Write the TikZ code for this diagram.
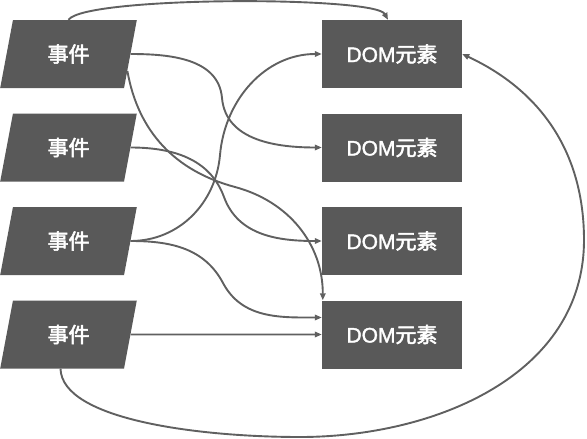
\documentclass[tikz,border=0pt]{standalone}
\usepackage{fontspec}
\setmainfont{Noto Sans CJK SC}
\newfontfamily\cjkmed{Noto Sans CJK SC}[FakeBold=2.5]
\newfontfamily\latinfont{Liberation Sans}[FakeBold=1.8]
\usetikzlibrary{shapes.geometric,arrows.meta,calc}
\definecolor{boxgray}{HTML}{595959}
\definecolor{linegray}{HTML}{606060}
\begin{document}
\begin{tikzpicture}[x=1pt,y=1pt,
  evt/.style={trapezium, trapezium left angle=76, trapezium right angle=104,
    trapezium stretches=true, minimum width=137pt, minimum height=68pt,
    fill=boxgray, text=white, inner sep=0pt, font=\fontsize{21pt}{21pt}\selectfont\cjkmed},
  dom/.style={rectangle, minimum width=140pt, minimum height=68pt,
    fill=boxgray, text=white, inner sep=0pt, font=\fontsize{21pt}{21pt}\selectfont\cjkmed},
  conn/.style={draw=linegray, line width=1.9pt, -{Triangle[length=7pt,width=5.5pt]}}]
\useasboundingbox (0,0) rectangle (587,-439);
\node[evt] (e1) at (68.5,-54) {事件};
\node[evt] (e2) at (68.5,-147.5) {事件};
\node[evt] (e3) at (68.5,-241) {事件};
\node[evt] (e4) at (68.5,-334.5) {事件};
\node[dom] (d1) at (392,-54) {{\latinfont DOM}元素};
\node[dom] (d2) at (392,-147.5) {{\latinfont DOM}元素};
\node[dom] (d3) at (392,-241) {{\latinfont DOM}元素};
\node[dom] (d4) at (392,-334.5) {{\latinfont DOM}元素};
% top arc
\draw[conn] (e1.center |- e1.north) .. controls (85,4) and (375,4) .. ($(d1.north)+(-4,0)$);
% e1 -> d2
\draw[conn] (e1.east) to[out=0,in=95] (222,-98) to[out=-85,in=180] (d2.west);
% e1 lower -> d4 top
\draw[conn] ($(e1.east)!0.5!(e1.bottom right corner)$) to[out=-80,in=165] (235,-187)
  to[out=-15,in=90] ($(d4.north west)+(1,0)$);
% e2 -> d3
\draw[conn] (e2.east) to[out=0,in=110] (224,-197) to[out=-70,in=180] (d3.west);
% e3 -> d1
\draw[conn] (e3.east) to[out=0,in=-95] (220,-155) to[out=85,in=180] (d1.west);
% e3 -> d4
\draw[conn] (e3.east) to[out=0,in=118] (223,-283) to[out=-62,in=180] ($(d4.west)+(0,17)$);
% e4 -> d4
\draw[conn] (e4.east) -- (d4.west);
% e4 -> d1 big loop
\draw[conn] ($(e4.center |- e4.south)+(-8,0)$) .. controls (62,-420) and (200,-437) .. (300,-437)
  to[out=0,in=-90] (584,-240) to[out=90,in=-25] (d1.east);
\end{tikzpicture}
\end{document}
